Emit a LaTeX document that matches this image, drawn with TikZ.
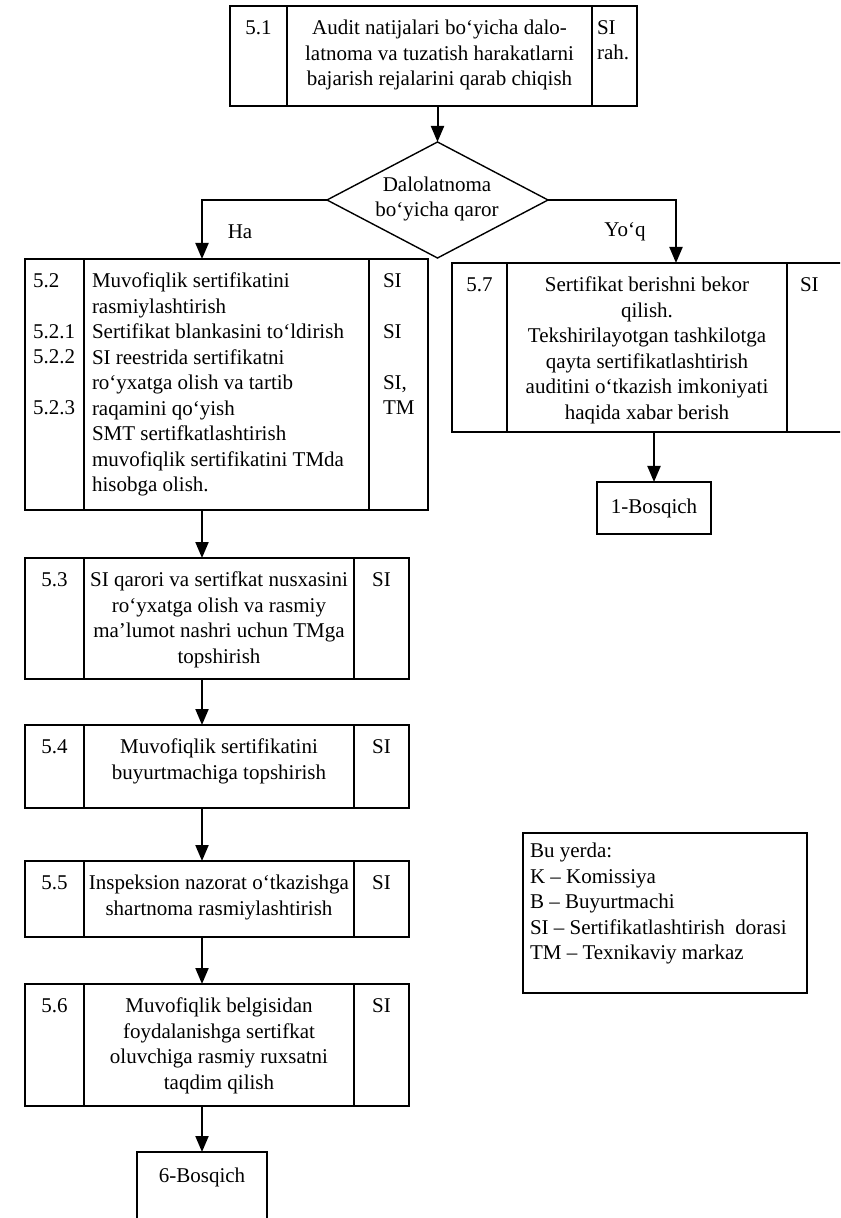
\documentclass[tikz,border=0pt]{standalone}
\usepackage{fontspec}
\setmainfont{Liberation Serif}
\usetikzlibrary{arrows.meta,shapes.geometric,calc}
\newcommand{\myfs}{\fontsize{10.5pt}{12.75pt}\selectfont}
\begin{document}
\begin{tikzpicture}[x=0.5pt,y=-0.5pt,
  box/.style={draw, line width=0.7pt, inner sep=0pt, outer sep=0pt},
  txt/.style={inner sep=0pt, outer sep=0pt, font=\myfs},
  ln/.style={line width=0.7pt},
  arr/.style={line width=1pt, -{Triangle[length=8pt,width=6.5pt]}}]
\fill[white] (0,0) rectangle (840,1218);
\useasboundingbox (0,0) rectangle (840,1218);
\clip (0,0) rectangle (840,1218);

% boxes
\node[box, minimum width=203.5pt, minimum height=50pt] (b51) at (433.5,56) {};
\node[box, diamond, minimum width=110.5pt, minimum height=58pt] (d) at (437.5,200) {};
\node[box, minimum width=201.5pt, minimum height=125.5pt] (b52) at (226.5,384.5) {};
\node[box, minimum width=192pt, minimum height=60.5pt] (b53) at (217,618.5) {};
\node[box, minimum width=192pt, minimum height=41.5pt] (b54) at (217,766.5) {};
\node[box, minimum width=192pt, minimum height=38pt] (b55) at (217,899) {};
\node[box, minimum width=192pt, minimum height=61pt] (b56) at (217,1045) {};
\node[box, minimum width=199pt, minimum height=84.5pt] (b57) at (651,347.5) {};
\node[box, minimum width=57pt, minimum height=26pt] (bos1) at (654,508) {};
\node[box, minimum width=65pt, minimum height=44pt] (bos6) at (202,1196) {};
\node[box, minimum width=142pt, minimum height=80pt] (leg) at (665,913) {};

% column dividers
\draw[ln] (287,6) -- (287,106);
\draw[ln] (592,6) -- (592,106);
\draw[ln] (84,259) -- (84,510);
\draw[ln] (369,259) -- (369,510);
\foreach \t/\b in {558/679, 725/808, 861/937, 984/1106}{
  \draw[ln] (84,\t) -- (84,\b);
  \draw[ln] (354,\t) -- (354,\b);
}
\draw[ln] (507,263) -- (507,432);
\draw[ln] (787,263) -- (787,432);

% 5.1
\node[txt, anchor=base] at (258.5,34.3) {5.1};
\node[txt, anchor=north, align=center] at (439.5,20) {Audit natijalari bo‘yicha dalo-\\latnoma va tuzatish harakatlarni\\bajarish rejalarini qarab chiqish};
\node[txt, anchor=base west] at (597,34.3) {SI};
\node[txt, anchor=base west] at (597,59.8) {rah.};

% decision
\node[txt, align=center] at (437,199) {Dalolatnoma\\bo‘yicha qaror};
\node[txt] at (240,232) {Ha};
\node[txt] at (625,232) {Yo‘q};

% 5.2
\node[txt, anchor=base west] at (33,287.3) {5.2};
\node[txt, anchor=base west] at (33,338.3) {5.2.1};
\node[txt, anchor=base west] at (33,363.8) {5.2.2};
\node[txt, anchor=base west] at (33,414.8) {5.2.3};
\node[txt, anchor=north west, align=left] at (92,273) {Muvofiqlik sertifikatini\\rasmiylashtirish\\Sertifikat blankasini to‘ldirish\\SI reestrida sertifikatni\\ro‘yxatga olish va tartib\\raqamini qo‘yish\\SMT sertifkatlashtirish\\muvofiqlik sertifikatini TMda\\hisobga olish.};
\node[txt, anchor=base west] at (383,287.3) {SI};
\node[txt, anchor=base west] at (383,338.3) {SI};
\node[txt, anchor=base west] at (383,389.3) {SI,};
\node[txt, anchor=base west] at (383,414.8) {TM};

% 5.3
\node[txt, anchor=base] at (54.5,586.3) {5.3};
\node[txt, anchor=north, align=center] at (219,572) {SI qarori va sertifkat nusxasini\\ro‘yxatga olish va rasmiy\\ma’lumot nashri uchun TMga\\topshirish};
\node[txt, anchor=base] at (381.5,586.3) {SI};

% 5.4
\node[txt, anchor=base] at (54.5,753.3) {5.4};
\node[txt, anchor=north, align=center] at (219,739) {Muvofiqlik sertifikatini\\buyurtmachiga topshirish};
\node[txt, anchor=base] at (381.5,753.3) {SI};

% 5.5
\node[txt, anchor=base] at (54.5,889.3) {5.5};
\node[txt, anchor=north, align=center] at (219,875) {Inspeksion nazorat o‘tkazishga\\shartnoma rasmiylashtirish};
\node[txt, anchor=base] at (381.5,889.3) {SI};

% 5.6
\node[txt, anchor=base] at (54.5,1012.3) {5.6};
\node[txt, anchor=north, align=center] at (219,998) {Muvofiqlik belgisidan\\foydalanishga sertifkat\\oluvchiga rasmiy ruxsatni\\taqdim qilish};
\node[txt, anchor=base] at (381.5,1012.3) {SI};

% 5.7
\node[txt, anchor=base] at (479.5,291.3) {5.7};
\node[txt, anchor=north, align=center] at (647,277) {Sertifikat berishni bekor\\qilish.\\Tekshirilayotgan tashkilotga\\qayta sertifikatlashtirish\\auditini o‘tkazish imkoniyati\\haqida xabar berish};
\node[txt, anchor=base west] at (800,291.3) {SI};

% end boxes
\node[txt] at (bos1) {1-Bosqich};
\node[txt] at (202,1177) {6-Bosqich};

% legend
\node[txt, anchor=north west, align=left] at (530,843) {Bu yerda:\\K – Komissiya\\B – Buyurtmachi\\SI – Sertifikatlashtirish\ \ dorasi\\TM – Texnikaviy markaz};

% connectors
\coordinate (yq) at (676,263);
\draw[arr] (d.north |- b51.south) -- (d.north);
\draw[arr] (d.west) -| (b52.north -| bos6.north);
\draw[arr] (d.east) -| (yq);
\draw[arr] (bos1.north |- b57.south) -- (bos1.north);
\draw[arr] (bos6.north |- b52.south) -- (bos6.north |- b53.north);
\draw[arr] (bos6.north |- b53.south) -- (bos6.north |- b54.north);
\draw[arr] (bos6.north |- b54.south) -- (bos6.north |- b55.north);
\draw[arr] (bos6.north |- b55.south) -- (bos6.north |- b56.north);
\draw[arr] (bos6.north |- b56.south) -- (bos6.north);
\end{tikzpicture}
\end{document}
